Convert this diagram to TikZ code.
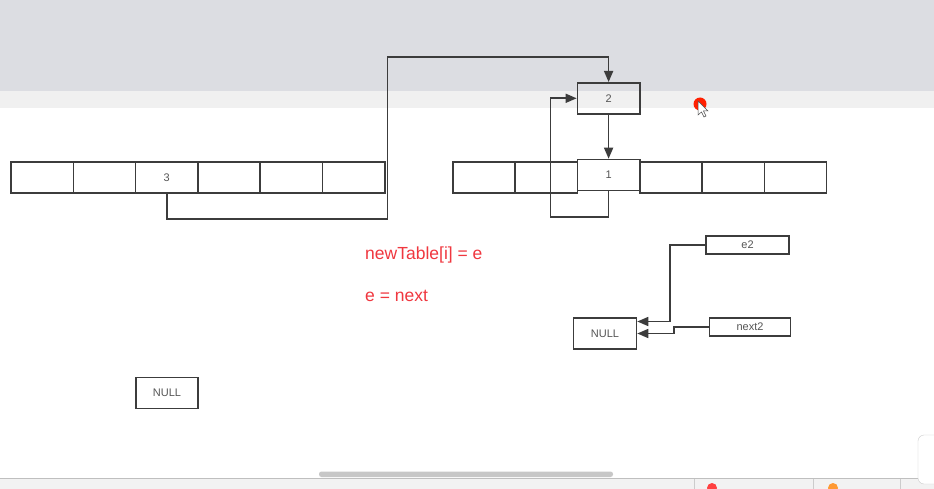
\documentclass[tikz,border=0pt]{standalone}
\usepackage{fontspec}
\setmainfont{Liberation Sans}
\usetikzlibrary{positioning,arrows.meta}

\definecolor{topgray}{HTML}{DCDDE2}
\definecolor{bandgray}{HTML}{F0F0F0}
\definecolor{linegray}{HTML}{3C3C3C}
\definecolor{textgray}{HTML}{555555}
\definecolor{notered}{HTML}{F0373F}

\begin{document}
\begin{tikzpicture}[x=1pt, y=-1pt, node distance=62.3pt, on grid,
  cell/.style={draw=linegray, line width=1.6pt, minimum width=62.3pt, minimum height=31pt,
    inner sep=0pt, text=textgray, font=\fontsize{11}{13}\selectfont},
  tag/.style={cell, minimum height=18pt},
  arr/.style={draw=linegray, line width=1.6pt, -{Triangle[length=11pt,width=9pt]}},
  note/.style={anchor=base west, inner sep=0pt, text=notered, font=\fontsize{17.5}{20}\selectfont}]
\useasboundingbox (0,0) rectangle (934,489);
% screen behind the drawing
\fill[topgray] (0,0) rectangle (934,91);
\fill[bandgray] (0,91) rectangle (934,108);
\fill[white] (0,108) rectangle (934,478);
\fill[black!5] (0,478) rectangle (934,489);
\draw[black!25] (0,478) -- (934,478);
\fill[black!22, rounded corners=2.5pt] (319,471.5) rectangle (613,477);
\foreach \sx in {694,813,900} \draw[black!20] (\sx,479) -- (\sx,489);
\fill[red!75] (712,488) circle (5);
\fill[orange!80] (833,488) circle (5);
\draw[black!20, fill=white, rounded corners=6pt] (918,435) rectangle (945,484);
\fill[red!75!orange] (700,104) circle (6.5);
\draw[black!70, fill=white, line width=0.5pt] (698,101) -- (698,115) -- (701.5,112) -- (704,117) -- (706,116) -- (703.5,111) -- (708,111) -- cycle;

% old table
\node[cell] (a1) at (42.2,177.5) {};
\node[cell] (a2) [right=of a1] {};
\node[cell] (a3) [right=of a2] {3};
\node[cell] (a4) [right=of a3] {};
\node[cell] (a5) [right=of a4] {};
\node[cell] (a6) [right=of a5] {};

% new table
\node[cell] (b1) at (484,177.5) {};
\node[cell] (b2) [right=of b1] {};
\node[cell] (b3) [right=of b2, yshift=2.5pt] {1};
\node[cell] (b4) [right=of b3, yshift=-2.5pt] {};
\node[cell] (b5) [right=of b4] {};
\node[cell] (b6) [right=of b5] {};
\node[cell] (n2) [above=76.7pt of b3] {2};

\node[cell] (null1) at (167,393) {NULL};
\node[cell, minimum width=63pt] (null2) at (605,333.5) {NULL};
\node[tag, minimum width=83pt] (e2) at (747.5,245) {e2};
\node[tag, minimum width=81pt] (next2) at (750,327) {next2};

\node[note] (t1) at (365,259) {newTable[i] = e};
\node[note] (t2) at (365,301) {e = next};

\draw[arr] (a3.south) -- ++(0,25) -| (387.5,57) -| (n2.north);
\draw[arr] (n2) -- (b3);
\draw[arr] (b3.south) -- ++(0,25.5) -| ([xshift=-26pt]n2.west) -- (n2.west);
\draw[arr] (e2.west) -- ++(-35,0) |- ([yshift=12pt]null2.east);
\draw[arr] (next2.west) -- ++(-35,0) |- (null2.east);
\end{tikzpicture}
\end{document}
